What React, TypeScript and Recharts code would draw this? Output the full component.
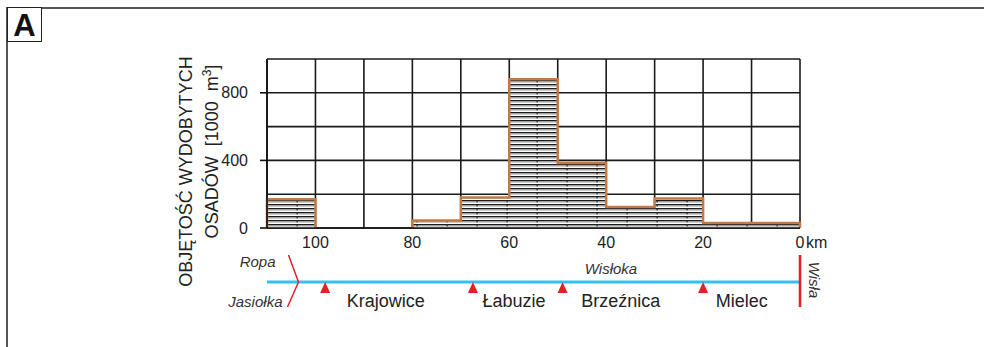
import {
  Area,
  CartesianGrid,
  ComposedChart,
  ReferenceDot,
  ReferenceLine,
  XAxis,
  YAxis,
} from 'recharts';

// volume of dredged sediment per 10 km reach, listed from upstream (110 km) to the mouth (0 km)
const reachStartKm = [110, 100, 90, 80, 70, 60, 50, 40, 30, 20, 10];
const dredgedVolume = [170, 0, 0, 45, 180, 880, 385, 125, 175, 30, 30];

const xTicks = [100, 80, 60, 40, 20, 0];
const yTicks = [0, 400, 800];
const gridY = [0, 200, 400, 600, 800, 1000];
const gridX = [0, 10, 20, 30, 40, 50, 60, 70, 80, 90, 100, 110];

// gauging stations along the Wisłoka
const stations = ['Krajowice', 'Łabuzie', 'Brzeźnica', 'Mielec'];
const stationKm = [98, 67.5, 49, 20];
const stationLabelKm = [85.5, 59, 37, 12];
const confluenceKm = 103.5;
const wislokaLabelKm = 39;

const FONT = '"Liberation Sans", Arial, sans-serif';
const RED = '#e41f26';
const BLUE = '#36bff0';
const OUTLINE = '#c47a45';

// Step outline of the histogram. Each run of non-empty reaches is closed down to
// zero at both ends; empty reaches become a gap (null) so no outline runs along the axis.
const buildStepData = () => {
  const out: { km: number; v: number | null }[] = [];
  let open = false;
  reachStartKm.forEach((km, i) => {
    const v = dredgedVolume[i];
    if (v > 0) {
      if (!open) out.push({ km, v: 0 });
      out.push({ km, v });
      open = true;
    } else {
      if (open) out.push({ km, v: 0 });
      else out.push({ km, v: null });
      open = false;
    }
  });
  if (open) {
    out.push({ km: 0, v: dredgedVolume[dredgedVolume.length - 1] });
    out.push({ km: 0, v: 0 });
  }
  return out;
};
const stepData = buildStepData();

const KmTick = (props: any) => {
  const { x, y, payload } = props;
  if (payload.value === 0) {
    return (
      <g>
        <text x={x} y={y} dy="0.71em" textAnchor="middle" fontSize={16} fill="#222" fontFamily={FONT}>0</text>
        <text x={x + 6} y={y} dy="0.71em" textAnchor="start" fontSize={16} fill="#222" fontFamily={FONT}>km</text>
      </g>
    );
  }
  return (
    <text x={x} y={y} dy="0.71em" textAnchor="middle" fontSize={16} fill="#222" fontFamily={FONT}>
      {payload.value}
    </text>
  );
};

const VolumeLabel = (props: any) => {
  const { x, y, height } = props.viewBox;
  const mid = y + height / 2;
  const x1 = x - 15;
  const x2 = x + 11;
  return (
    <g fontFamily={FONT} fontSize={18} fill="#222">
      <text x={x1} y={mid + 28} textAnchor="middle" transform={`rotate(-90 ${x1} ${mid + 28})`}>
        OBJĘTOŚĆ WYDOBYTYCH
      </text>
      <text x={x2} y={mid + 8} textAnchor="middle" transform={`rotate(-90 ${x2} ${mid + 8})`}>
        {'OSADÓW\u00a0\u00a0[1000\u00a0\u00a0m'}
        <tspan dy={-7} fontSize={12}>3</tspan>
        <tspan dy={7}>]</tspan>
      </text>
    </g>
  );
};

const RiverLine = (props: any) => {
  const { x1, y1, x2, y2 } = props;
  return <line x1={x1} y1={y1 + 54} x2={x2} y2={y2 + 54} stroke={BLUE} strokeWidth={3} />;
};

const StationMark = (props: any) => {
  const { cx, cy } = props;
  return <path d={`M${cx},${cy + 54} L${cx + 5},${cy + 65} L${cx - 5},${cy + 65} Z`} fill={RED} />;
};

const StationName = (name: string) => (props: any) => {
  const { cx, cy } = props;
  return (
    <text x={cx} y={cy + 79} textAnchor="middle" fontSize={18} fill="#222" fontFamily={FONT}>
      {name}
    </text>
  );
};

const Confluence = (props: any) => {
  const { cx, cy } = props;
  return (
    <g fontFamily={FONT} fontSize={15} fontStyle="italic" fill="#333">
      <path
        d={`M${cx - 10},${cy + 27} L${cx},${cy + 54} L${cx - 11},${cy + 79}`}
        fill="none"
        stroke={RED}
        strokeWidth={1.5}
      />
      <text x={cx - 23} y={cy + 39} textAnchor="end">Ropa</text>
      <text x={cx - 16} y={cy + 79} textAnchor="end">Jasiołka</text>
    </g>
  );
};

const WislokaName = (props: any) => {
  const { cx, cy } = props;
  return (
    <text x={cx} y={cy + 46} textAnchor="middle" fontSize={15} fontStyle="italic" fill="#333" fontFamily={FONT}>
      Wisłoka
    </text>
  );
};

const Mouth = (props: any) => {
  const { cx, cy } = props;
  const tx = cx + 9;
  const ty = cy + 52;
  return (
    <g>
      <line x1={cx} y1={cy + 27} x2={cx} y2={cy + 79} stroke={RED} strokeWidth={2.5} />
      <text
        x={tx}
        y={ty}
        textAnchor="middle"
        fontSize={15}
        fontStyle="italic"
        fill="#333"
        fontFamily={FONT}
        transform={`rotate(90 ${tx} ${ty})`}
      >
        Wisła
      </text>
    </g>
  );
};

export default function App() {
  return (
    <div style={{ position: 'absolute', left: 0, top: 0, width: 984, height: 347, background: '#fff', overflow: 'hidden' }}>
      <div
        style={{
          position: 'absolute',
          left: 6,
          top: 7,
          right: 0,
          bottom: 0,
          borderTop: '2px solid #555',
          borderLeft: '2px solid #555',
        }}
      />
      <div
        style={{
          position: 'absolute',
          left: 7,
          top: 7,
          width: 33,
          height: 33,
          border: '1.5px solid #222',
          background: '#fff',
          fontFamily: FONT,
          fontWeight: 'bold',
          fontSize: 31,
          lineHeight: '35px',
          textAlign: 'center',
          color: '#111',
        }}
      >
        A
      </div>
      <div style={{ position: 'absolute', left: 0, top: 0 }}>
        <ComposedChart
          width={984}
          height={347}
          data={stepData}
          margin={{ top: 59, right: 184, bottom: 89, left: 207 }}
        >
          <defs>
            <pattern id="hatch" patternUnits="userSpaceOnUse" width={30} height={4}>
              <rect x={0} y={0} width={30} height={4} fill="#fff" />
              <rect x={0} y={0} width={30} height={1.1} fill="#1c1c1c" />
              <rect x={0} y={1.1} width={30} height={1.4} fill="#9a9a9a" />
              <rect x={26.5} y={0} width={1.2} height={2.4} fill="#222" />
            </pattern>
          </defs>
          <CartesianGrid
            horizontalValues={gridY}
            verticalValues={gridX}
            stroke="#1a1a1a"
            strokeWidth={1.6}
          />
          <XAxis
            dataKey="km"
            type="number"
            domain={[0, 110]}
            reversed
            ticks={xTicks}
            interval={0}
            tick={<KmTick />}
            tickLine={false}
            tickSize={6}
            tickMargin={3}
            height={30}
            axisLine={{ stroke: '#111', strokeWidth: 1.6 }}
          />
          <YAxis
            type="number"
            domain={[0, 1000]}
            ticks={yTicks}
            interval={0}
            width={60}
            tickSize={7}
            tickMargin={12}
            tick={{ fontSize: 16, fill: '#222', fontFamily: FONT }}
            tickLine={{ stroke: '#111', strokeWidth: 1.6 }}
            axisLine={{ stroke: '#111', strokeWidth: 1.6 }}
            label={{ content: VolumeLabel }}
          />
          <Area
            type="stepAfter"
            dataKey="v"
            fill="url(#hatch)"
            fillOpacity={1}
            stroke={OUTLINE}
            strokeWidth={2.5}
            dot={false}
            activeDot={false}
            connectNulls={false}
            isAnimationActive={false}
          />
          <ReferenceLine
            segment={[
              { x: 110, y: 0 },
              { x: 0, y: 0 },
            ]}
            ifOverflow="visible"
            shape={RiverLine}
          />
          <ReferenceDot x={confluenceKm} y={0} ifOverflow="visible" shape={Confluence} />
          <ReferenceDot x={wislokaLabelKm} y={0} ifOverflow="visible" shape={WislokaName} />
          <ReferenceDot x={0} y={0} ifOverflow="visible" shape={Mouth} />
          {stations.map((name, i) => (
            <ReferenceDot key={`m-${name}`} x={stationKm[i]} y={0} ifOverflow="visible" shape={StationMark} />
          ))}
          {stations.map((name, i) => (
            <ReferenceDot
              key={`n-${name}`}
              x={stationLabelKm[i]}
              y={0}
              ifOverflow="visible"
              shape={StationName(name)}
            />
          ))}
        </ComposedChart>
      </div>
    </div>
  );
}
